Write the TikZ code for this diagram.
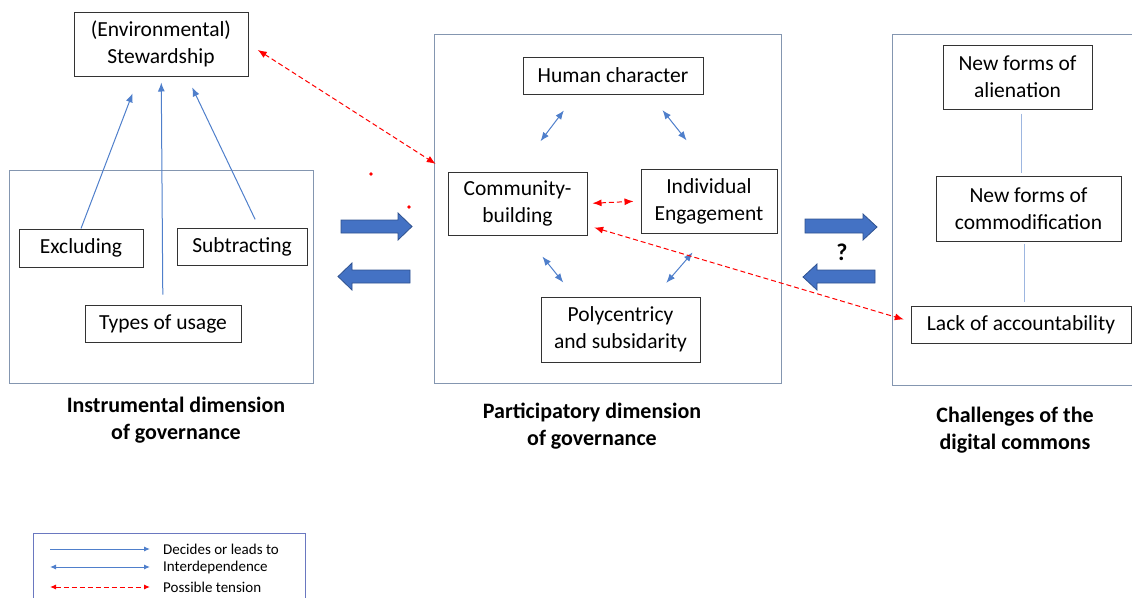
\documentclass[tikz,border=0pt]{standalone}
\usepackage{fontspec}
\setmainfont{Carlito}
\usetikzlibrary{arrows.meta}
\definecolor{officeblue}{HTML}{4472C4}
\definecolor{darkblue}{HTML}{2F528F}
\definecolor{lineblue}{HTML}{4F7FCB}
\definecolor{paleblue}{HTML}{9DB6E0}
\definecolor{framegray}{HTML}{8496B0}
\tikzset{%
  box/.style      = {shape=rectangle, draw=black!80, line width=1pt,%
                     align=center, inner sep=0pt,%
                     font=\fontsize{21.5}{27}\selectfont},%
  frame/.style    = {shape=rectangle, draw=framegray, line width=1pt, inner sep=0pt},%
  caption/.style  = {align=center, font=\fontsize{22}{27}\selectfont\bfseries},%
  leads/.style    = {draw=lineblue, line width=1pt, ->},%
  inter/.style    = {draw=lineblue, line width=1pt, <->},%
  clash/.style    = {draw=red, line width=1pt, dash pattern=on 5pt off 3pt, <->},%
  bigarrow/.style = {fill=officeblue, draw=darkblue, line width=0.8pt},%
  legtext/.style  = {anchor=west, inner sep=0pt, font=\fontsize{15}{18}\selectfont}%
}

\begin{document}
\begin{tikzpicture}[x=1pt,y=-1pt,>={Latex[length=9pt,width=7pt]}]
		\useasboundingbox (0,0) rectangle (1132,597);
		% outer frames
		\node[frame, minimum width=304pt, minimum height=213pt] (instr) at (161,276.5) {};
		\node[frame, minimum width=347pt, minimum height=349pt] (partic) at (607.5,208.5) {};
		\node[frame, minimum width=258pt, minimum height=351pt] (chall) at (1021,209.5) {};
		% instrumental dimension
		\node[box, minimum width=174pt, minimum height=64pt] (stw) at (161,44) {(Environmental)\\Stewardship};
		\node[box, minimum width=124pt, minimum height=38pt] (excl) at (81,248) {Excluding};
		\node[box, minimum width=130pt, minimum height=37pt] (subt) at (242,246.5) {Subtracting};
		\node[box, minimum width=156pt, minimum height=37pt] (types) at (163,323.5) {Types of usage};
		\draw[leads, shorten >=18pt] (excl.north) -- ([xshift=-22pt]stw.south);
		\draw[leads, shorten <=10pt, shorten >=6pt] (types) -- (stw);
		\draw[leads, shorten <=9pt, shorten >=12pt] ([xshift=17pt]subt.north) -- ([xshift=26pt]stw.south);
		% participatory dimension
		\node[box, minimum width=180pt, minimum height=37pt] (hc) at (613,75.5) {Human character};
		\node[box, minimum width=139pt, minimum height=63pt] (cb) at (517.5,203.5) {Community-\\building};
		\node[box, minimum width=136pt, minimum height=64pt] (ie) at (709,201) {Individual\\Engagement};
		\node[box, minimum width=159pt, minimum height=65pt] (ps) at (620.5,329.5) {Polycentricy\\and subsidarity};
		\draw[inter, shorten <=20pt, shorten >=38pt] ([xshift=-37pt]hc.south) -- (cb.north);
		\draw[inter, shorten <=20pt, shorten >=36pt] ([xshift=37pt]hc.south) -- (ie.north);
		\draw[inter, shorten <=27pt, shorten >=18pt] ([xshift=8pt]cb.south) -- ([xshift=-46pt]ps.north);
		\draw[inter, shorten <=18pt, shorten >=25pt] ([xshift=34pt]ps.north) -- (ie.south);
		\draw[clash, shorten <=5pt, shorten >=7pt] (cb.east) -- (ie.west);
		% challenges
		\node[box, minimum width=149pt, minimum height=64pt] (alien) at (1017.5,77) {New forms of\\alienation};
		\node[box, minimum width=185pt, minimum height=65pt] (comm) at (1028.5,208.5) {New forms of\\commodification};
		\node[box, minimum width=220pt, minimum height=37pt] (lack) at (1021,324.5) {Lack of accountability};
		\draw[paleblue, line width=1pt, shorten <=4pt, shorten >=3pt] (alien.south -| 1021,0) -- (comm.north -| 1021,0);
		\draw[paleblue, line width=1pt, shorten <=2pt, shorten >=4pt] (comm.south -| 1024,0) -- (lack.north -| 1024,0);
		% tensions across dimensions
		\draw[clash, shorten <=11pt, shorten >=14pt] (stw.east) -- (cb.north west);
		\draw[clash, shorten <=7pt, shorten >=7pt] ([yshift=10pt]cb.south east) -- ([yshift=3pt]lack.west);
		\fill[red] (371,174) circle (1.8pt);
		\fill[red] (409,207) circle (1.8pt);
		% block arrows
		\draw[bigarrow] (341,220) -- ++(57,0) -- ++(0,-7) -- ++(14,13.5) -- ++(-14,13.5) -- ++(0,-7) -- ++(-57,0) -- cycle;
		\draw[bigarrow] (410,270) -- ++(-58,0) -- ++(0,-7) -- ++(-14,13.5) -- ++(14,13.5) -- ++(0,-7) -- ++(58,0) -- cycle;
		\draw[bigarrow] (805,219) -- ++(58,0) -- ++(0,-5) -- ++(14,13) -- ++(-14,13) -- ++(0,-7) -- ++(-58,0) -- cycle;
		\draw[bigarrow] (875,270) -- ++(-58,0) -- ++(0,-6) -- ++(-14,13) -- ++(14,13) -- ++(0,-7) -- ++(58,0) -- cycle;
		\node[font=\fontsize{24}{24}\selectfont\bfseries] (qmark) at (842,252) {?};
		% captions
		\node[caption] (instrcap) at (176,420.5) {Instrumental dimension\\of governance};
		\node[caption] (particcap) at (592,426) {Participatory dimension\\of governance};
		\node[caption] (challcap) at (1015,430) {Challenges of the\\digital commons};
		% legend
		\node[frame, draw=framegray!80!blue, minimum width=272pt, minimum height=80pt, anchor=north west] (legend) at (33,533) {};
		\begin{scope}[>={Latex[length=6pt,width=5pt]}]
			\coordinate (lg1) at (50,549);
			\coordinate (lg2) at (50,567);
			\coordinate (lg3) at (50,587);
			\node[legtext] (dec) at (163,549) {Decides or leads to};
			\node[legtext] (dep) at (163,567) {Interdependence};
			\node[legtext] (ten) at (163,587) {Possible tension};
			\draw[leads, shorten >=13pt] (lg1) -- (dec.west);
			\draw[inter, shorten >=13pt] (lg2) -- (dep.west);
			\draw[clash, shorten >=13pt] (lg3) -- (ten.west);
		\end{scope}
	\end{tikzpicture}
\end{document}
